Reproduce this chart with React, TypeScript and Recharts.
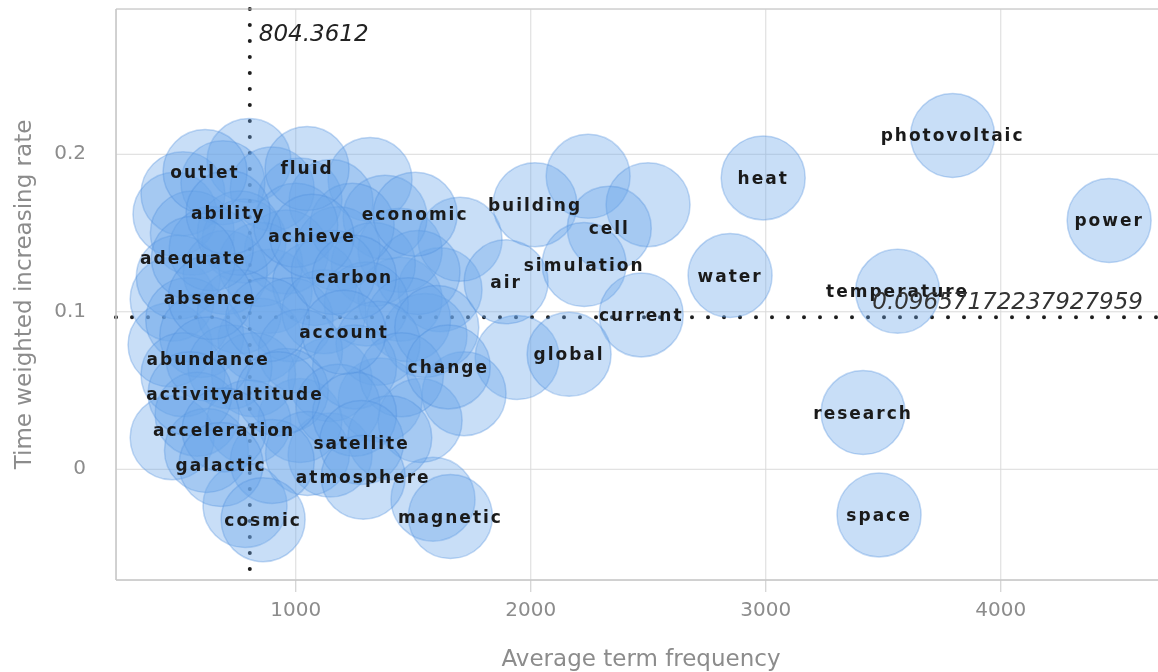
import {
  ScatterChart,
  Scatter,
  XAxis,
  YAxis,
  CartesianGrid,
  ReferenceLine,
  ReferenceArea,
  LabelList,
  Label,
} from 'recharts'

// '' = bubble that has no visible label in the original
const terms = [
  'outlet', 'fluid', 'ability', 'achieve', 'economic', 'adequate', 'carbon', 'absence',
  'account', 'abundance', 'activity', 'altitude', 'acceleration', 'satellite', 'galactic',
  'atmosphere', 'cosmic', 'magnetic', 'change', 'air', 'building', 'cell', 'simulation',
  'current', 'global', 'heat', 'water', 'photovoltaic', 'power', 'temperature', 'research',
  'space',
]

const avgFrequency = [
  614, 1048, 712, 1069, 1508, 564, 1249, 636,
  1205, 627, 550, 925, 695, 1280, 682,
  1287, 861, 1658, 1649, 1895, 2018, 2334, 2227,
  2470, 2163, 2989, 2848, 3795, 4461, 3561, 3414,
  3482,
]

const weightedRate = [
  0.189, 0.191, 0.163, 0.148, 0.162, 0.134, 0.122, 0.109,
  0.087, 0.07, 0.048, 0.048, 0.025, 0.017, 0.003,
  -0.005, -0.032, -0.03, 0.065, 0.119, 0.168, 0.153, 0.13,
  0.098, 0.073, 0.185, 0.123, 0.212, 0.158, 0.113, 0.036,
  -0.029,
]

// bubbles whose labels are hidden under the crowd
const hiddenFrequency = [
  801, 1316, 2244, 2499, 1942, 1716, 1584, 784, 474, 1146, 486, 474, 465,
  891, 1018, 1444, 1359, 1018, 1146, 848, 1529, 1614, 1550, 1444, 1699,
  520, 690, 900, 1150, 1380, 560, 780, 960, 1180, 1330, 1520,
  500, 700, 850, 1080, 1300, 1480, 540, 760, 980, 1120, 1350, 1600,
  600, 820, 1020, 1250, 1450, 520, 720, 960, 1180, 1400,
  580, 800, 1050, 1250, 620, 900, 760, 1240, 640, 1000, 880, 1160,
]

const hiddenRate = [
  0.196, 0.184, 0.186, 0.168, 0.071, 0.048, -0.019, -0.023, 0.02, 0.009, 0.162, 0.108, 0.079,
  0.113, 0.171, 0.108, 0.044, 0.031, 0.057, 0.082, 0.031, 0.114, 0.085, 0.139, 0.146,
  0.175, 0.182, 0.178, 0.17, 0.16, 0.15, 0.145, 0.138, 0.14, 0.13, 0.125,
  0.122, 0.125, 0.13, 0.118, 0.105, 0.095, 0.095, 0.1, 0.095, 0.1, 0.08, 0.09,
  0.085, 0.06, 0.075, 0.065, 0.06, 0.06, 0.065, 0.05, 0.04, 0.02,
  0.035, 0.03, 0.01, 0.035, 0.012, 0.005, 0.15, 0.155, 0.14, 0.155, 0.095, 0.125,
]

const xTicks = [1000, 2000, 3000, 4000]
const yTicks = [0, 0.1, 0.2]
const xDomain = [235, 4703]
const yDomain = [-0.0703, 0.29225]
const meanFrequency = 804.3612
const meanRate = 0.09657172237927959

const FONT = 'DejaVu Sans'
const AXIS_GREY = '#8c8c8c'
const BUBBLE_R = 42

const Bubble = (props: any) => (
  <circle
    cx={props.cx}
    cy={props.cy}
    r={BUBBLE_R}
    fill="#69a5e8"
    fillOpacity={0.37}
    stroke="#4f8fdc"
    strokeOpacity={0.35}
    strokeWidth={1.5}
  />
)

export default function App() {
  const labelled = terms.map((term, i) => ({
    term,
    frequency: avgFrequency[i],
    rate: weightedRate[i],
  }))
  const hidden = hiddenFrequency.map((frequency, i) => ({
    term: '',
    frequency,
    rate: hiddenRate[i],
  }))
  const bubbles = [...hidden, ...labelled]

  return (
    <div
      style={{
        position: 'fixed',
        left: 0,
        top: 0,
        width: 1158,
        height: 672,
        overflow: 'hidden',
        fontFamily: FONT,
      }}
    >
      <ScatterChart width={1166} height={672} margin={{ top: 9, right: 0, bottom: 0, left: 0 }}>
        <CartesianGrid stroke="#dadada" />
        {/* dotted mean lines as a second grid so they stay under the bubbles */}
        <CartesianGrid
          horizontalValues={[meanRate]}
          verticalValues={[meanFrequency]}
          stroke="#1e1e1e"
          strokeWidth={4}
          strokeDasharray="0 16"
          strokeLinecap="round"
        />
        <ReferenceArea
          x1={xDomain[0]}
          x2={xDomain[1]}
          y1={yDomain[0]}
          y2={yDomain[1]}
          fill="none"
          stroke="#c8c8c8"
        />
        <XAxis
          type="number"
          dataKey="frequency"
          domain={xDomain}
          ticks={xTicks}
          allowDataOverflow
          height={92}
          tickSize={12}
          tickMargin={10}
          axisLine={{ stroke: '#c8c8c8' }}
          tickLine={{ stroke: '#c8c8c8' }}
          tick={{ fontSize: 20, fill: AXIS_GREY, fontFamily: FONT }}
        >
          <Label
            value="Average term frequency"
            position="insideBottom"
            offset={6}
            fontSize={23}
            fill={AXIS_GREY}
            fontFamily={FONT}
          />
        </XAxis>
        <YAxis
          type="number"
          dataKey="rate"
          domain={yDomain}
          ticks={yTicks}
          allowDataOverflow
          width={116}
          tickSize={0}
          tickMargin={30}
          tickLine={false}
          axisLine={{ stroke: '#c8c8c8' }}
          tick={{ fontSize: 20, fill: AXIS_GREY, fontFamily: FONT, dy: -2 }}
        >
          <Label
            value="Time weighted increasing rate"
            angle={-90}
            position="insideLeft"
            offset={23}
            fontSize={23}
            fill={AXIS_GREY}
            fontFamily={FONT}
            style={{ textAnchor: 'middle' }}
          />
        </YAxis>

        <Scatter data={bubbles} shape={Bubble} isAnimationActive={false}>
          <LabelList
            dataKey="term"
            position="center"
            fill="#1a1a1a"
            stroke="none"
            fontSize={17}
            fontWeight="bold"
            letterSpacing={2}
            fontFamily={FONT}
          />
        </Scatter>

        <ReferenceLine x={meanFrequency} stroke="none">
          <Label
            value={String(meanFrequency)}
            position="insideTopLeft"
            offset={9}
            dy={7}
            fontSize={23}
            fontStyle="italic"
            fill="#222"
            fontFamily={FONT}
          />
        </ReferenceLine>
        <ReferenceLine y={meanRate} stroke="none">
          <Label
            value={String(meanRate)}
            position="insideRight"
            offset={23}
            dy={-16}
            fontSize={23}
            fontStyle="italic"
            fill="#333"
            fontFamily={FONT}
          />
        </ReferenceLine>
      </ScatterChart>
    </div>
  )
}
